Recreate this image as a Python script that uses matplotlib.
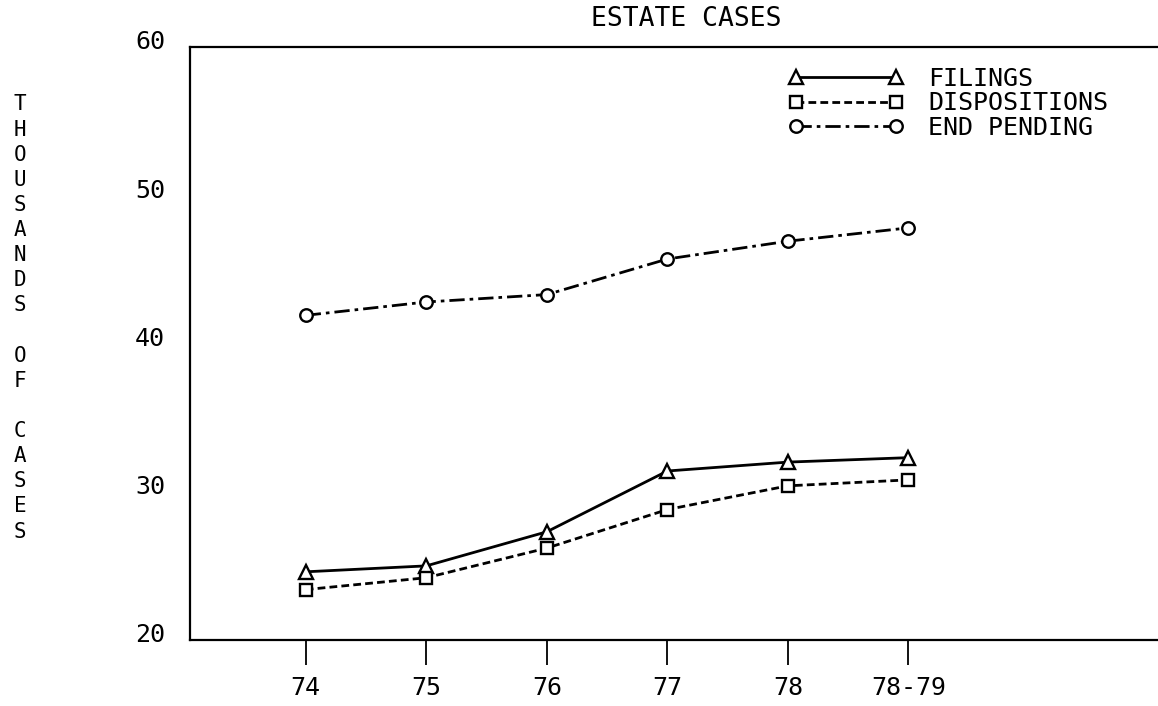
import numpy as np
import matplotlib
matplotlib.use("Agg")
import matplotlib.pyplot as plt
import matplotlib.transforms as mtransforms

# Data (thousands of cases)
years = ['74', '75', '76', '77', '78', '78-79']
filings = [24.6, 25.0, 27.3, 31.4, 32.0, 32.3]
dispositions = [23.4, 24.2, 26.2, 28.8, 30.4, 30.8]
end_pending = [41.9, 42.8, 43.3, 45.7, 46.9, 47.8]

yticks = [20, 30, 40, 50, 60]

plt.rcParams['font.family'] = ['DejaVu Sans Mono']

fig = plt.figure(figsize=(11.58, 7.06), dpi=100)
ax = fig.add_axes([190 / 1158, 66 / 706, 1 - 190 / 1158, (640 - 47) / 706])

x = np.arange(len(years))
lw = 2.0
ax.plot(x, filings, color='black', lw=lw, linestyle='-',
        marker='^', markersize=10, markerfacecolor='white',
        markeredgewidth=1.7, label='FILINGS')
ax.plot(x, dispositions, color='black', lw=lw, linestyle=(0, (2.8, 1.5)),
        marker='s', markersize=9, markerfacecolor='white',
        markeredgewidth=1.7, label='DISPOSITIONS')
ax.plot(x, end_pending, color='black', lw=lw, linestyle=(0, (5.5, 1.8, 1.3, 1.8)),
        marker='o', markersize=9, markerfacecolor='white',
        markeredgewidth=1.7, label='END PENDING')

ax.set_xlim(-0.96, 7.07)
ax.set_ylim(20, 60)

ax.set_xticks(x)
ax.set_xticklabels(years, fontsize=18)
ax.tick_params(axis='x', direction='out', length=18, width=1.3, pad=8)

ax.set_yticks(yticks)
ax.set_yticklabels([str(v) for v in yticks], fontsize=18)
ax.tick_params(axis='y', length=0, pad=18)
offset = mtransforms.ScaledTranslation(0, 7 / 100, fig.dpi_scale_trans)
for lab in ax.get_yticklabels():
    lab.set_transform(lab.get_transform() + offset)

for side in ['left', 'bottom', 'top']:
    ax.spines[side].set_linewidth(1.6)
ax.spines['right'].set_visible(False)

leg = ax.legend(loc='upper left', bbox_to_anchor=((788 - 190) / 968, 1 - 20 / 593),
                frameon=False, fontsize=18, numpoints=2, handlelength=4.6,
                handletextpad=1.0, labelspacing=0.02, borderaxespad=0,
                borderpad=0)

fig.text(686 / 1158, 1 - 19 / 706, 'ESTATE CASES', fontsize=19,
         ha='center', va='center')

# stacked vertical axis label
stacked = "\n".join(list("THOUSANDS")) + "\n\n" + "\n".join(list("OF")) + "\n\n" + "\n".join(list("CASES"))
fig.text(20 / 1158, 1 - 318 / 706, stacked, fontsize=15, ha='center',
         va='center', linespacing=1.32)

fig.savefig('out.png', dpi=100)
